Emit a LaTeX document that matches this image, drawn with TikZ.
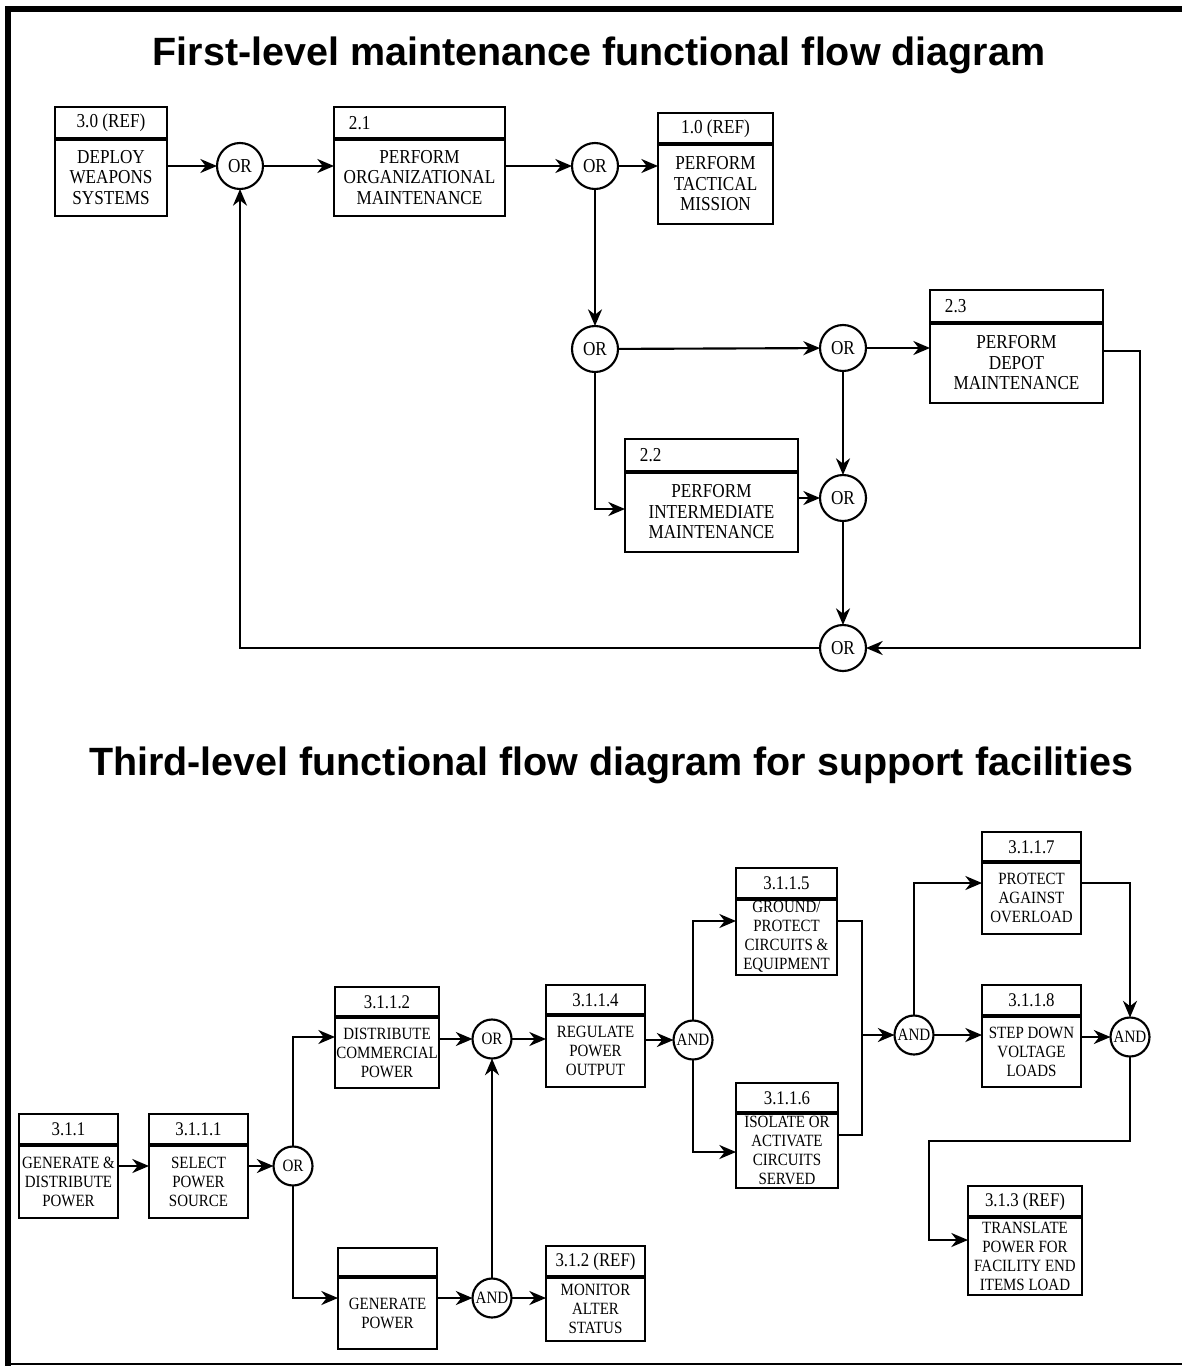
\documentclass[tikz,border=0pt]{standalone}
\usepackage{fontspec}
\setmainfont{Liberation Serif}[FakeStretch=0.87]
\newfontfamily\titlefont{Liberation Sans}
\usetikzlibrary{arrows.meta}
% #1 name, #2 x-left, #3 x-right, #4 y-top, #5 y-separator, #6 y-bottom, #7 header, #8 body
\newcommand{\fbx}[8]{%
  \node[hpart, minimum width={(#3-#2)*0.75pt}, minimum height={(#5-#4)*0.75pt}] (#1h) at (#2,#4) {#7};
  \node[bpart, align=center, minimum width={(#3-#2)*0.75pt}, minimum height={(#6-#5)*0.75pt}] (#1) at (#2,#5) {#8};
  \draw[line width=2.6pt] (#1.north west) -- (#1.north east);
}
\begin{document}
\begin{tikzpicture}[x=0.75pt,y=-0.75pt,
  part/.style={draw, line width=1.7pt, inner sep=0pt, outer sep=0pt, anchor=north west},
  gate/.style={circle, draw, line width=1.6pt, inner sep=0pt, outer sep=0pt, minimum size=34.5pt, font=\fontsize{14.8}{16}\selectfont},
  sgate/.style={gate, minimum size=29.25pt, font=\fontsize{13}{14}\selectfont},
  arr/.style={line width=1.6pt, -{Stealth[length=12.5pt,width=10.5pt,inset=4pt]}},
  ln/.style={line width=1.6pt},
  ttl/.style={font=\titlefont\bfseries\fontsize{29.6}{34}\selectfont, anchor=base, inner sep=0pt},
  lbl/.style={anchor=west, inner sep=0pt, font=\fontsize{14.8}{16}\selectfont}
]
\useasboundingbox (0,0) rectangle (1182,1366);
\fill[white] (0,0) rectangle (1182,1366);
% frame
\draw[line width=4.5pt] (8,1366) -- (8,9) -- (1182,9);
\draw[line width=1pt] (8,1364) -- (1182,1364);

% titles
\node[ttl] (ttl1) at (599,66) {First-level maintenance functional flow diagram};
\node[ttl] (ttl2) at (611,775) {Third-level functional flow diagram for support facilities};

% ---------- first-level ----------
\begin{scope}[hpart/.style={part, font=\fontsize{14.8}{15.4}\selectfont},
              bpart/.style={part, font=\fontsize{14.8}{15.4}\selectfont}]
\fbx{b30}{55}{167}{107}{139}{216}{3.0 (REF)}{DEPLOY\\WEAPONS\\SYSTEMS}
\fbx{b21}{334}{505}{107}{139}{216}{}{PERFORM\\ORGANIZATIONAL\\MAINTENANCE}
\fbx{b10}{658}{773}{113}{144}{224}{1.0 (REF)}{PERFORM\\TACTICAL\\MISSION}
\fbx{b23}{930}{1103}{290}{323}{403}{}{PERFORM\\DEPOT\\MAINTENANCE}
\fbx{b22}{625}{798}{439}{472}{552}{}{PERFORM\\INTERMEDIATE\\MAINTENANCE}
\end{scope}
\node[lbl] (l21) at ([xshift=11pt]b21h.west) {2.1};
\node[lbl] (l23) at ([xshift=11pt]b23h.west) {2.3};
\node[lbl] (l22) at ([xshift=11pt]b22h.west) {2.2};

\node[gate] (or1) at (240,166) {OR};
\node[gate] (or2) at (595,166) {OR};
\node[gate] (or3) at (595,349) {OR};
\node[gate] (or4) at (843,348) {OR};
\node[gate] (or5) at (843,498) {OR};
\node[gate] (or6) at (843,648) {OR};
\coordinate (ya) at (0,509);
\coordinate (rc) at (1140,351);

\draw[arr] (b30.east |- or1) -- (or1);
\draw[arr] (or1) -- (b21.west |- or1);
\draw[arr] (b21.east |- or2) -- (or2);
\draw[arr] (or2) -- (b10.west |- or2);
\draw[arr] (or2) -- (or3);
\draw[arr] (or3) -- (or4);
\draw[arr] (or4) -- (b23.west |- or4);
\draw[arr] (or3) |- (b22.west |- ya);
\draw[arr] (b22.east |- or5) -- (or5);
\draw[arr] (or4) -- (or5);
\draw[arr] (or5) -- (or6);
\draw[arr] (b23.east |- rc) -- (rc) |- (or6);
\draw[arr] (or6) -| (or1);

% ---------- third-level ----------
\begin{scope}[hpart/.style={part, font=\fontsize{14.5}{15}\selectfont},
              bpart/.style={part, font=\fontsize{12.9}{14.25}\selectfont}]
\fbx{p311}{19}{118}{1114}{1145}{1218}{3.1.1}{GENERATE \&\\DISTRIBUTE\\POWER}
\fbx{p3111}{149}{248}{1114}{1145}{1218}{3.1.1.1}{SELECT\\POWER\\SOURCE}
\fbx{p3112}{335}{439}{987}{1017}{1088}{3.1.1.2}{DISTRIBUTE\\COMMERCIAL\\POWER}
\fbx{pgen}{338}{437}{1248}{1277}{1349}{}{GENERATE\\POWER}
\fbx{p3114}{546}{645}{985}{1015}{1087}{3.1.1.4}{REGULATE\\POWER\\OUTPUT}
\fbx{p312}{546}{645}{1246}{1277}{1341}{3.1.2 (REF)}{MONITOR\\ALTER\\STATUS}
\fbx{p3115}{736}{837}{868}{899}{975}{3.1.1.5}{GROUND/\\PROTECT\\CIRCUITS \&\\EQUIPMENT}
\fbx{p3116}{736}{838}{1083}{1113}{1188}{3.1.1.6}{ISOLATE OR\\ACTIVATE\\CIRCUITS\\SERVED}
\fbx{p3117}{982}{1081}{832}{862}{934}{3.1.1.7}{PROTECT\\AGAINST\\OVERLOAD}
\fbx{p3118}{982}{1081}{985}{1016}{1087}{3.1.1.8}{STEP DOWN\\VOLTAGE\\LOADS}
\fbx{p313}{968}{1082}{1186}{1217}{1295}{3.1.3 (REF)}{TRANSLATE\\POWER FOR\\FACILITY END\\ITEMS LOAD}
\end{scope}

\node[sgate] (g1) at (293,1166) {OR};
\node[sgate] (g2) at (492,1039) {OR};
\node[sgate] (g3) at (492,1298) {AND};
\node[sgate] (g4) at (693,1040) {AND};
\node[sgate] (g5) at (914,1035) {AND};
\node[sgate] (g6) at (1130,1037) {AND};
\coordinate (yb1) at (0,1037);
\coordinate (yb2) at (0,1152);
\coordinate (yb3) at (0,883);
\coordinate (yb4) at (0,1240);
\coordinate (m1) at (862,921);
\coordinate (m2) at (862,1135);
\coordinate (turn1) at (929,1141);

\draw[arr] (p311.east |- g1) -- (p3111.west |- g1);
\draw[arr] (p3111.east |- g1) -- (g1);
\draw[arr] (g1) |- (p3112.west |- yb1);
\draw[arr] (g1) |- (pgen.west |- g3);
\draw[arr] (p3112.east |- g2) -- (g2);
\draw[arr] (pgen.east |- g3) -- (g3);
\draw[arr] (g3) -- (g2);
\draw[arr] (g2) -- (p3114.west |- g2);
\draw[arr] (g3) -- (p312.west |- g3);
\draw[arr] (p3114.east |- g4) -- (g4);
\draw[arr] (g4) |- (p3115.west |- m1);
\draw[arr] (g4) |- (p3116.west |- yb2);
\draw[ln] (p3115.east |- m1) -- (m1) -- (m2) -- (p3116.east |- m2);
\draw[arr] (m1 |- g5) -- (g5);
\draw[arr] (g5) |- (p3117.west |- yb3);
\draw[arr] (g5) -- (p3118.west |- g5);
\draw[arr] (p3118.east |- g6) -- (g6);
\draw[arr] (p3117.east |- yb3) -| (g6);
\draw[arr] (g6) |- (turn1) |- (p313.west |- yb4);
\end{tikzpicture}
\end{document}
